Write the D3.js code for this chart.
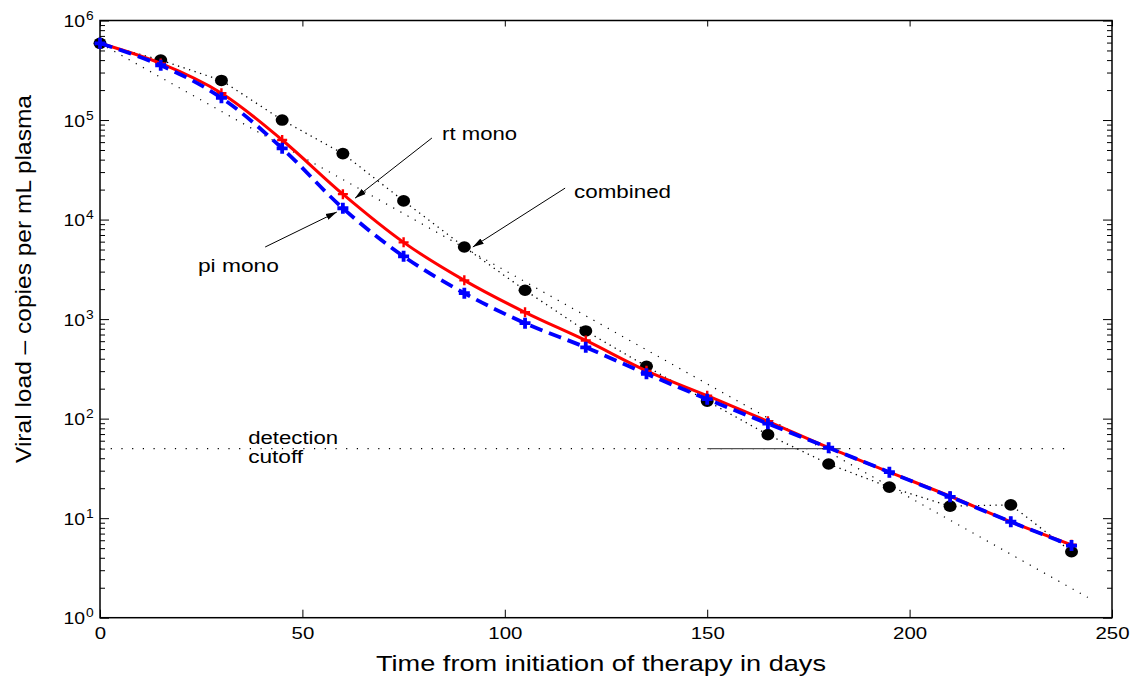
<!DOCTYPE html>
<meta charset="utf-8">
<style>
  body { margin: 0; background: #fff; }
  svg text { font-family: "Liberation Sans", Arial, Helvetica, sans-serif; fill: #000; }
  .box { fill: none; stroke: #000; stroke-width: 1.5; }
  .tick line { stroke: #000; stroke-width: 1; }
</style>
<div id="chart"></div>
<script src="https://d3js.org/d3.v7.min.js"></script>
<script>
// days after start of therapy, one sample every 15 days
var days = [0, 15, 30, 45, 60, 75, 90, 105, 120, 135, 150, 165, 180, 195, 210, 225, 240];
// combined therapy (black dots, dotted line)
var combined = [5.9e5, 4.0e5, 2.5e5, 1.0e5, 4.6e4, 1.54e4, 5.3e3, 1.95e3, 760, 335, 150, 69, 35, 20.5, 13.2, 13.6, 4.6];
// rt mono (red, solid)
var rtMono = [5.9e5, 3.7e5, 1.86e5, 6.3e4, 1.8e4, 5.9e3, 2.45e3, 1.17e3, 610, 302, 170, 94, 51, 29, 16.6, 9.2, 5.4];
// pi mono (blue, dashed)
var piMono = [5.9e5, 3.55e5, 1.67e5, 5.2e4, 1.3e4, 4.27e3, 1.82e3, 910, 520, 282, 157, 89, 51, 29, 16.4, 9.2, 5.3];
// straight exponential decay guide (dotted)
var trendDays = [0, 244];
var trendValues = [5.9e5, 1.6];
// detection cutoff
var cutoffDays = [0, 240];
var cutoffLevel = 50;
var leaderDays = [150, 183];

var xTicks = [0, 50, 100, 150, 200, 250];
var yExponents = [0, 1, 2, 3, 4, 5, 6];

var width = 1138, height = 681;
var svg = d3.select("#chart").append("svg")
  .attr("width", width)
  .attr("height", height);

var x = d3.scaleLinear().domain([0, 250]).range([100, 1112]);
var y = d3.scaleLog().domain([1, 1e6]).range([617.7, 20.5]);

// stretch text horizontally to the wide look of the original
function stretch(sel, k) {
  sel.each(function() {
    var w = this.getComputedTextLength();
    d3.select(this).attr("textLength", w * k).attr("lengthAdjust", "spacingAndGlyphs");
  });
}

// arrow head
svg.append("defs").append("marker")
  .attr("id", "arrow")
  .attr("markerUnits", "userSpaceOnUse")
  .attr("markerWidth", 12).attr("markerHeight", 8)
  .attr("viewBox", "0 -4 12 8")
  .attr("refX", 11).attr("refY", 0)
  .attr("orient", "auto")
  .append("path")
  .attr("d", "M0,-3.2L11,0L0,3.2Z")
  .attr("fill", "#000");

var majorY = yExponents.map(function(e) { return Math.pow(10, e); });
var minorY = [];
yExponents.slice(0, -1).forEach(function(e) {
  for (var m = 2; m <= 9; m++) minorY.push(m * Math.pow(10, e));
});

// axes (ticks point inward)
var gLeft = svg.append("g").attr("transform", "translate(" + x(0) + ",0)")
  .call(d3.axisLeft(y).tickValues(majorY).tickSize(-9).tickFormat(""));
svg.append("g").attr("transform", "translate(" + x(0) + ",0)")
  .call(d3.axisLeft(y).tickValues(minorY).tickSize(-5).tickFormat(""));
svg.append("g").attr("transform", "translate(" + x(250) + ",0)")
  .call(d3.axisRight(y).tickValues(majorY).tickSize(-9).tickFormat(""));
svg.append("g").attr("transform", "translate(" + x(250) + ",0)")
  .call(d3.axisRight(y).tickValues(minorY).tickSize(-5).tickFormat(""));
var gBottom = svg.append("g").attr("transform", "translate(0," + y(1) + ")")
  .call(d3.axisBottom(x).tickValues(xTicks).tickSize(-8).tickPadding(9).tickFormat(d3.format("d")));
svg.append("g").attr("transform", "translate(0," + y(1e6) + ")")
  .call(d3.axisTop(x).tickValues(xTicks).tickSize(-6).tickFormat(""));
svg.selectAll(".domain").remove();

gBottom.selectAll(".tick text")
  .attr("font-size", 17)
  .call(stretch, 1.2);

// y labels: "10" with the exponent raised
gLeft.selectAll(".tick text").remove();
gLeft.selectAll(".tick").each(function(d) {
  var g = d3.select(this);
  var base = g.append("text")
    .attr("y", 6)
    .attr("text-anchor", "start")
    .attr("font-size", 17)
    .text("10");
  var w = base.node().getComputedTextLength() * 1.14;
  base.attr("x", -15 - w)
    .attr("textLength", w).attr("lengthAdjust", "spacingAndGlyphs");
  g.append("text")
    .attr("x", -14).attr("y", -1)
    .attr("text-anchor", "start")
    .attr("font-size", 12)
    .text(Math.round(Math.log10(d)))
    .call(stretch, 1.15);
});

svg.append("rect").attr("class", "box")
  .attr("x", x(0)).attr("y", y(1e6))
  .attr("width", x(250) - x(0)).attr("height", y(1) - y(1e6));

// detection cutoff
svg.append("line")
  .attr("x1", x(cutoffDays[0])).attr("x2", x(cutoffDays[1]))
  .attr("y1", y(cutoffLevel)).attr("y2", y(cutoffLevel))
  .attr("stroke", "#000").attr("stroke-width", 1.1)
  .attr("stroke-dasharray", "1.2,9.5");
svg.append("line")
  .attr("x1", x(leaderDays[0])).attr("x2", x(leaderDays[1]))
  .attr("y1", y(cutoffLevel)).attr("y2", y(cutoffLevel))
  .attr("stroke", "#555").attr("stroke-width", 1.4);

// straight decay guide
svg.append("line")
  .attr("x1", x(trendDays[0])).attr("y1", y(trendValues[0]))
  .attr("x2", x(trendDays[1])).attr("y2", y(trendValues[1]))
  .attr("stroke", "#000").attr("stroke-width", 1.2)
  .attr("stroke-dasharray", "1.2,7");

var straight = d3.line().x(function(d) { return x(d[0]); }).y(function(d) { return y(d[1]); });
var smooth = d3.line().x(function(d) { return x(d[0]); }).y(function(d) { return y(d[1]); })
  .curve(d3.curveCatmullRom.alpha(0.5));

var combPts = d3.zip(days, combined);
var rtPts = d3.zip(days, rtMono);
var piPts = d3.zip(days, piMono);

// combined: dotted line + dots
svg.append("path").datum(combPts)
  .attr("d", straight)
  .attr("fill", "none").attr("stroke", "#000").attr("stroke-width", 1.3)
  .attr("stroke-dasharray", "1.3,4.5");
svg.append("g").selectAll("ellipse").data(combPts).enter().append("ellipse")
  .attr("cx", function(d) { return x(d[0]); })
  .attr("cy", function(d) { return y(d[1]); })
  .attr("rx", 6.5).attr("ry", 5.8)
  .attr("fill", "#000");

function plus(g, pts, size, color, sw) {
  g.selectAll("path").data(pts).enter().append("path")
    .attr("d", function(d) {
      var cx = x(d[0]), cy = y(d[1]), h = size / 2;
      return "M" + (cx - h) + "," + cy + "H" + (cx + h) + "M" + cx + "," + (cy - h) + "V" + (cy + h);
    })
    .attr("stroke", color).attr("stroke-width", sw).attr("fill", "none");
}

// rt mono
svg.append("path").datum(rtPts)
  .attr("d", smooth)
  .attr("fill", "none").attr("stroke", "#ff0000").attr("stroke-width", 3);
plus(svg.append("g"), rtPts, 10, "#ff0000", 2.4);

// pi mono
svg.append("path").datum(piPts)
  .attr("d", smooth)
  .attr("fill", "none").attr("stroke", "#0000ff").attr("stroke-width", 3.8)
  .attr("stroke-dasharray", "13,7");
plus(svg.append("g"), piPts, 11, "#0000ff", 3.8);

// annotations
var annotations = [
  { text: "rt mono", day: 84.5, value: 6.3e4, len: 75, from: [82.0, 6.6e4], to: [63.0, 1.64e4] },
  { text: "combined", day: 117.1, value: 1.64e4, len: 97, from: [114.9, 2.07e4], to: [92.1, 5.3e3] },
  { text: "pi mono", day: 24.2, value: 2.97e3, len: 81, from: [40.8, 5.3e3], to: [58.5, 1.19e4] }
];
var cutoffLabels = [
  { text: "detection", day: 36.6, value: 55.5, len: 90 },
  { text: "cutoff", day: 36.6, value: 35.7, len: 55 }
];

svg.append("g").selectAll("line").data(annotations).enter().append("line")
  .attr("x1", function(d) { return x(d.from[0]); })
  .attr("y1", function(d) { return y(d.from[1]); })
  .attr("x2", function(d) { return x(d.to[0]); })
  .attr("y2", function(d) { return y(d.to[1]); })
  .attr("stroke", "#000").attr("stroke-width", 1)
  .attr("marker-end", "url(#arrow)");

svg.append("g").selectAll("text").data(annotations.concat(cutoffLabels)).enter().append("text")
  .attr("x", function(d) { return x(d.day); })
  .attr("y", function(d) { return y(d.value); })
  .attr("font-size", 18)
  .attr("textLength", function(d) { return d.len; })
  .attr("lengthAdjust", "spacingAndGlyphs")
  .text(function(d) { return d.text; });

// axis titles
svg.append("text")
  .attr("x", 601).attr("y", 671)
  .attr("text-anchor", "middle")
  .attr("font-size", 22)
  .attr("textLength", 450).attr("lengthAdjust", "spacingAndGlyphs")
  .text("Time from initiation of therapy in days");

svg.append("text")
  .attr("transform", "translate(31,279) rotate(-90)")
  .attr("text-anchor", "middle")
  .attr("font-size", 22)
  .attr("textLength", 368).attr("lengthAdjust", "spacingAndGlyphs")
  .text("Viral load \u2013 copies per mL plasma");
</script>
